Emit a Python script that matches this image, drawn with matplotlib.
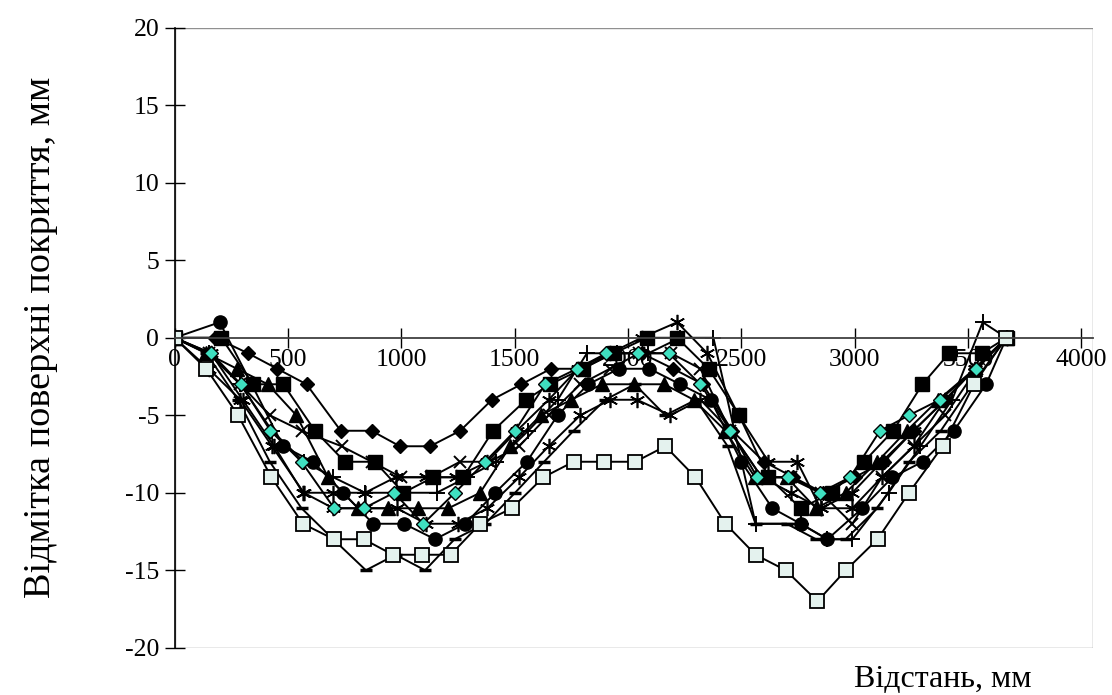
import matplotlib
matplotlib.use("Agg")
import matplotlib.pyplot as plt
from matplotlib.patches import Rectangle

plt.rcParams['font.family'] = ['Liberation Serif', 'DejaVu Serif']
plt.rcParams['axes.unicode_minus'] = False

# ---- data (distance, mm ; surface mark, mm) ----
x_os = [0, 140, 280, 427, 566, 703, 835, 963, 1090, 1218, 1348, 1488, 1627, 1760, 1893, 2033, 2165, 2298, 2430, 2563, 2696, 2836, 2961, 3101, 3240, 3388, 3527, 3668]
y_os = [0, -2, -5, -9, -12, -13, -13, -14, -14, -14, -12, -11, -9, -8, -8, -8, -7, -9, -12, -14, -15, -17, -15, -13, -10, -7, -3, 0]

x_fd = [0, 180, 324, 453, 582, 733, 869, 994, 1127, 1260, 1400, 1530, 1660, 1800, 1930, 2060, 2200, 2330, 2460, 2600, 2730, 2860, 3000, 3130, 3260, 3400, 3530, 3670]
y_fd = [0, 0, -1, -2, -3, -6, -6, -7, -7, -6, -4, -3, -2, -2, -1, -1, -2, -3, -6, -8, -9, -10, -9, -8, -6, -4, -2, 0]

x_fs = [0, 206, 345, 480, 619, 751, 884, 1009, 1141, 1273, 1405, 1551, 1657, 1800, 1937, 2084, 2217, 2356, 2490, 2620, 2762, 2900, 3041, 3170, 3299, 3417, 3560, 3670]
y_fs = [0, 0, -3, -3, -6, -8, -8, -10, -9, -9, -6, -4, -3, -2, -1, 0, 0, -2, -5, -9, -11, -10, -8, -6, -3, -1, -1, 0]

x_ft = [0, 140, 275, 411, 537, 677, 810, 942, 1075, 1208, 1348, 1480, 1615, 1750, 1885, 2025, 2160, 2290, 2430, 2560, 2700, 2830, 2960, 3100, 3230, 3370, 3530, 3670]
y_ft = [0, -1, -2, -3, -5, -9, -11, -11, -11, -11, -10, -7, -5, -4, -3, -3, -3, -4, -6, -9, -9, -11, -10, -8, -6, -4, -2, 0]

x_fc = [0, 199, 340, 479, 610, 743, 876, 1012, 1149, 1282, 1414, 1554, 1690, 1825, 1960, 2095, 2230, 2365, 2500, 2637, 2762, 2880, 3034, 3167, 3300, 3438, 3580, 3670]
y_fc = [0, 1, -3, -7, -8, -10, -12, -12, -13, -12, -10, -8, -5, -3, -2, -2, -3, -4, -8, -11, -12, -13, -11, -9, -8, -6, -3, 0]

x_cd = [0, 162, 292, 423, 560, 704, 835, 968, 1097, 1237, 1370, 1502, 1635, 1775, 1905, 2043, 2180, 2320, 2452, 2570, 2706, 2847, 2980, 3112, 3240, 3376, 3535, 3670]
y_cd = [0, -1, -3, -6, -8, -11, -11, -10, -12, -10, -8, -6, -3, -2, -1, -1, -1, -3, -6, -9, -9, -10, -9, -6, -5, -4, -2, 0]

x_xm = [0, 150, 290, 420, 560, 737, 870, 1000, 1130, 1259, 1390, 1520, 1650, 1790, 1920, 2050, 2190, 2320, 2450, 2590, 2720, 2850, 2990, 3120, 3260, 3400, 3540, 3670]
y_xm = [0, -1, -3, -5, -6, -7, -8, -9, -9, -8, -8, -7, -5, -3, -2, -1, -1, -2, -6, -9, -9, -10, -12, -9, -7, -5, -2, 0]

x_a1 = [0, 160, 300, 440, 566, 700, 840, 975, 1110, 1240, 1380, 1510, 1650, 1780, 1920, 2060, 2217, 2350, 2488, 2620, 2747, 2850, 2990, 3120, 3260, 3400, 3530, 3670]
y_a1 = [0, -1, -4, -7, -10, -10, -10, -9, -9, -9, -8, -6, -4, -2, -1, 0, 1, -1, -5, -8, -8, -11, -11, -9, -7, -4, -2, 0]

x_a2 = [0, 150, 290, 430, 570, 700, 840, 980, 1110, 1250, 1380, 1520, 1650, 1790, 1922, 2040, 2187, 2320, 2450, 2590, 2720, 2850, 2990, 3120, 3260, 3400, 3530, 3670]
y_a2 = [0, -2, -4, -7, -10, -11, -11, -11, -12, -12, -11, -9, -7, -5, -4, -4, -5, -4, -6, -9, -10, -11, -10, -8, -6, -4, -2, 0]

x_pl = [0, 150, 290, 430, 570, 700, 840, 980, 1156, 1290, 1420, 1560, 1690, 1819, 1950, 2090, 2230, 2377, 2563, 2762, 2880, 2990, 3150, 3290, 3430, 3565, 3670]
y_pl = [0, -1, -3, -6, -8, -9, -10, -10, -10, -9, -8, -6, -4, -1, -1, -1, 0, 0, -12, -12, -13, -13, -10, -7, -4, 1, 0]

x_ds = [0, 140, 280, 420, 560, 700, 844, 975, 1105, 1235, 1370, 1502, 1630, 1760, 1900, 2030, 2165, 2300, 2440, 2563, 2700, 2830, 2960, 3100, 3240, 3380, 3520, 3670]
y_ds = [0, -1, -4, -8, -11, -13, -15, -14, -15, -13, -12, -10, -8, -6, -4, -3, -5, -4, -7, -12, -12, -13, -13, -11, -8, -6, -3, 0]

x_ticks = [0, 500, 1000, 1500, 2000, 2500, 3000, 3500, 4000]
y_ticks = [-20, -15, -10, -5, 0, 5, 10, 15, 20]
x_label = "Відстань, мм"
y_label = "Відмітка поверхні покриття, мм"

fig = plt.figure(figsize=(11.12, 6.95), dpi=100)
ax = fig.add_axes([0.157, 0.068, 0.826, 0.892])

lw = 1.4
ax.plot(x_ds, y_ds, color='black', lw=lw, marker='_', ms=8, mew=2.5)
ax.plot(x_a2, y_a2, color='black', lw=lw, marker=(6, 2, 0), ms=11, mew=1.2)
ax.plot(x_a1, y_a1, color='black', lw=lw, marker=(6, 2, 0), ms=11, mew=1.2)
ax.plot(x_pl, y_pl, color='black', lw=lw, marker='+', ms=11, mew=1.4)
ax.plot(x_xm, y_xm, color='black', lw=lw, marker='x', ms=9, mew=1.4)
ax.plot(x_fd, y_fd, color='black', lw=lw, marker='D', ms=7, mfc='black', mec='black')
ax.plot(x_fs, y_fs, color='black', lw=lw, marker='s', ms=9.5, mfc='black', mec='black')
ax.plot(x_ft, y_ft, color='black', lw=lw, marker='^', ms=9.5, mfc='black', mec='black')
ax.plot(x_fc, y_fc, color='black', lw=lw, marker='o', ms=9.5, mfc='black', mec='black')
ax.plot(x_cd, y_cd, color='black', lw=lw, marker='D', ms=7, mfc='#3fe0c0', mec='black', mew=1.0)
ax.plot(x_os, y_os, color='black', lw=lw, marker='s', ms=10.5, mfc='#e4f2ee', mec='black', mew=1.3)

ax.set_xlim(0, 4052)
ax.set_ylim(-20, 20)
ax.set_xticks(x_ticks)
ax.set_yticks(y_ticks)

for s in ['top', 'right']:
    ax.spines[s].set_visible(False)
ax.spines['bottom'].set_position(('data', 0))
ax.spines['bottom'].set_color('#404040')
ax.spines['bottom'].set_linewidth(1.3)
ax.spines['left'].set_color('black')
ax.spines['left'].set_linewidth(1.2)
ax.add_patch(Rectangle((0, 0), 1, 1, transform=ax.transAxes, fill=False,
                       edgecolor='#909090', lw=1.0, zorder=0.5))

ax.tick_params(axis='both', direction='inout', length=14, width=1.0,
               labelsize=18.5, colors='black')
ax.tick_params(axis='x', pad=1)
ax.tick_params(axis='y', pad=4)
for lab in ax.get_xticklabels():
    lab.set_zorder(0.6)

fig.text(0.037, 0.515, y_label, rotation=90, ha='center', va='center', fontsize=27.5)
fig.text(0.928, 0.022, x_label, ha='right', va='center', fontsize=23)

fig.savefig('out.png', dpi=100)
